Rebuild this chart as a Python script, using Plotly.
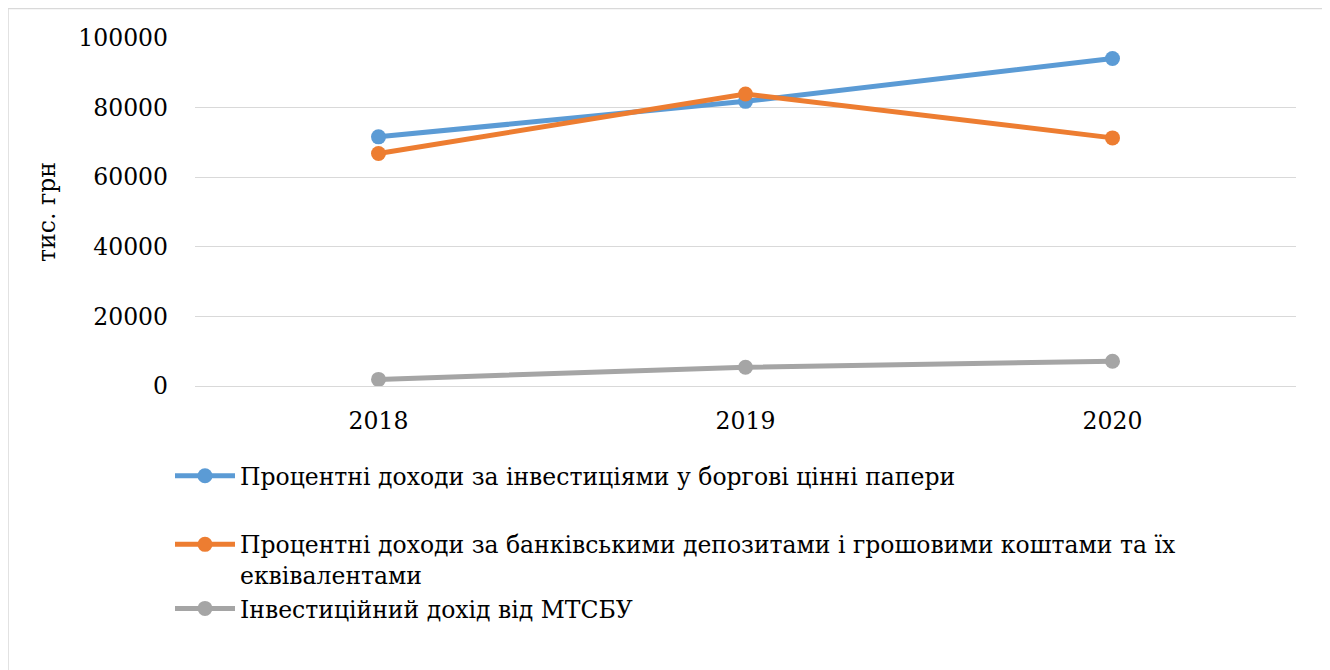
import plotly.graph_objects as go

years = ["2018", "2019", "2020"]
debt_securities = [71600, 81800, 94100]
bank_deposits = [66800, 83900, 71300]
mtsbu_income = [1900, 5400, 7100]

names = [
    "Процентні доходи за інвестиціями у боргові цінні папери",
    "Процентні доходи за банківськими депозитами і грошовими коштами та їх<br>еквівалентами",
    "Інвестиційний дохід від МТСБУ",
]
colors = ["#5B9BD5", "#ED7D31", "#A5A5A5"]
groups = ["a", "b", "b"]
series = [debt_securities, bank_deposits, mtsbu_income]

FONT = "DejaVu Serif"
FS = 23.5

fig = go.Figure()
for name, vals, col, grp in zip(names, series, colors, groups):
    fig.add_trace(go.Scatter(
        x=years, y=vals, name=name, mode="lines+markers",
        line=dict(color=col, width=5),
        marker=dict(color=col, size=15),
        legendgroup=grp,
    ))

# page offset of 8px (body margin)
W, H = 1322, 662
L, R, T, B = 187, 34, 30, 284
pw = W - L - R
ph = H - T - B

fig.update_layout(
    width=W, height=H,
    margin=dict(l=L, r=R, t=T, b=B),
    paper_bgcolor="white", plot_bgcolor="white",
    font=dict(family=FONT, size=FS, color="#000000"),
    showlegend=True,
    legend=dict(
        x=(162 - L) / pw, xanchor="left",
        y=(H - B - 446) / ph, yanchor="top",
        bgcolor="rgba(0,0,0,0)",
        traceorder="grouped",
        tracegroupgap=35,
        valign="top",
        font=dict(family=FONT, size=FS),
        itemwidth=60,
    ),
    xaxis=dict(
        type="category", range=[-0.5, 2.5],
        showgrid=False, showline=False, ticks="",
        zeroline=False,
        tickfont=dict(family=FONT, size=FS),
        ticklabelstandoff=18,
    ),
    yaxis=dict(
        range=[0, 100000], tickvals=[0, 20000, 40000, 60000, 80000, 100000],
        ticktext=["0", "20000", "40000", "60000", "80000", "100000"],
        showgrid=True, gridcolor="#D9D9D9", gridwidth=1,
        zeroline=True, zerolinecolor="#D9D9D9", zerolinewidth=1,
        showline=False, ticks="",
        tickfont=dict(family=FONT, size=FS),
        ticklabelstandoff=26,
        title=dict(text="тис. грн", font=dict(family=FONT, size=FS), standoff=16),
    ),
    shapes=[dict(
        type="rect", xref="paper", yref="paper",
        x0=(0 - L) / pw, x1=(1316 - L) / pw,
        y0=(H - B - 670) / ph, y1=(H - B - 0.5) / ph,
        line=dict(color="#D9D9D9", width=1.5),
        fillcolor="rgba(0,0,0,0)", layer="below",
    )],
)

fig.write_html("out.html")
